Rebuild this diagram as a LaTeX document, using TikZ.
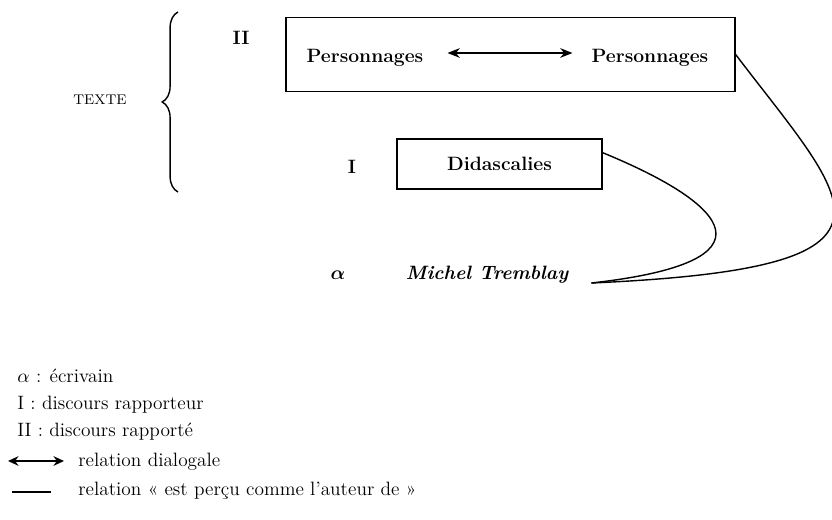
\documentclass[tikz,border=0pt]{standalone}
\usepackage{amsmath}
\usepackage{tikz}
\usetikzlibrary{arrows.meta, positioning, calc, decorations.pathreplacing}
\tikzset{
  line/.style={draw=black, thick},
  dialog/.style={draw=black, thick, {Stealth[length=7pt, width=5.5pt]}-{Stealth[length=7pt, width=5.5pt]}},
  frame/.style={draw=black, thick, rectangle, inner sep=0pt},
  lbl/.style={font=\fontsize{11}{13}\selectfont\bfseries},
  leg/.style={anchor=base west, inner sep=0pt, font=\fontsize{11}{13}\selectfont}
}

\begin{document}
\begin{tikzpicture}[x=0.02cm, y=-0.02cm]
  \useasboundingbox (0,0) rectangle (832,520);

  % niveaux du texte
  \node [font=\footnotesize] (txt) at (100,100) {TEXTE};
  \draw [thick, decorate, decoration={brace, amplitude=9pt}] (178,192) -- (178,12);
  \node [lbl] (two) at (241,38) {II};
  \node [lbl] (one) at (352,167) {I};
  \node [lbl] (alpha) at (338,275) {$\boldsymbol{\alpha}$};

  % discours rapporte
  \node [frame, minimum width=8.98cm, minimum height=1.48cm] (rep) at (510.5,54.5) {};
  \node [lbl] (p1) at (365,58) {Personnages};
  \node [lbl] (p2) at (650,58) {Personnages};
  \draw [dialog, shorten <=0.36cm, shorten >=0.26cm] (p1.east |- 0,53) -- (p2.west |- 0,53);

  % discours rapporteur
  \node [frame, lbl, minimum width=4.1cm, minimum height=1cm] (did) at (499.5,164) {Didascalies};

  % ecrivain
  \node [lbl, font=\fontsize{11}{13}\selectfont\bfseries\itshape] (mt) at (487,275) {Michel Tremblay};
  \coordinate (mtend) at ($(mt.east)+(17,8)$);

  \draw [line] ($(did.north east)!0.28!(did.south east)$) .. controls (730,205) and (780,262) .. (mtend);
  \draw [line] (rep.east) .. controls (850,205) and (930,268) .. (mtend);

  % legende
  \node [leg] (l1) at (17,382) {$\alpha$ : écrivain};
  \node [leg] (l2) at (17,409) {I : discours rapporteur};
  \node [leg] (l3) at (17,436) {II : discours rapporté};
  \node [leg] (l4) at (78,466) {relation dialogale};
  \node [leg] (l5) at (78,495) {relation « est perçu comme l'auteur de »};
  \coordinate (a1) at (8,461);
  \coordinate (a2) at (64,461);
  \coordinate (b1) at (12,492);
  \coordinate (b2) at (51,492);
  \draw [dialog, {Stealth[length=6pt, width=5.5pt]}-{Stealth[length=6pt, width=5.5pt]}] (a1) -- (a2);
  \draw [line] (b1) -- (b2);
\end{tikzpicture}
\end{document}
